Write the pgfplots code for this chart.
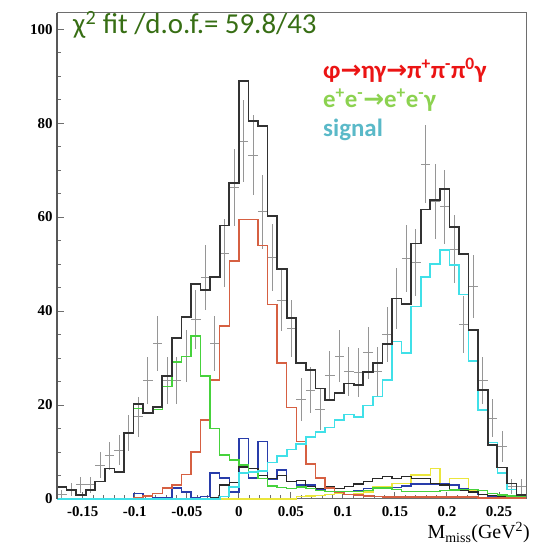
\documentclass[border=0pt]{standalone}
\usepackage{pgfplots}
\pgfplotsset{compat=1.18}
\usepackage{pgfplotstable}
\usepackage{fontspec}
\setmainfont{Liberation Serif}
\newfontfamily\calfont{Carlito}
\newfontfamily\symfont{DejaVu Sans}

\definecolor{cTot}{RGB}{50,50,50}
\definecolor{cDat}{RGB}{150,150,150}
\definecolor{cRed}{RGB}{214,96,66}
\definecolor{cGrn}{RGB}{70,210,60}
\definecolor{cCyn}{RGB}{64,224,232}
\definecolor{cBlu}{RGB}{40,60,170}
\definecolor{cYel}{RGB}{235,230,60}
\definecolor{cOth}{RGB}{40,40,40}
\definecolor{cFit}{RGB}{55,110,20}
\definecolor{cLeg1}{RGB}{235,20,20}
\definecolor{cLeg2}{RGB}{140,210,80}
\definecolor{cLeg3}{RGB}{90,185,200}
\definecolor{cFrame}{RGB}{110,110,110}

% bin left edge, bin centre, total fit, data, data error, components
\pgfplotstableread{
x       xc      tot   dat   err  red  grn  cyn  blu  yel  oth
-0.1748 -0.1702 2.6   1.0   1.0  0    2.6  0    0    0    0
-0.1656 -0.1610 1.9   2.0   1.4  0    1.9  0    0    0    0
-0.1564 -0.1518 0.9   3.0   1.7  0    0.9  0    0    0    0
-0.1472 -0.1426 1.9   3.0   1.7  0    1.9  0    0    0    0
-0.1380 -0.1334 3.7   7.2   2.7  0    3.7  0    0    0    0
-0.1288 -0.1242 6.5   9.2   3.0  0    6.5  0    0    0    0
-0.1196 -0.1150 5.8   10.4  3.2  0    5.8  0    0    0    0
-0.1104 -0.1058 14.1  14.1  3.8  0    14.1 0    0    0    0
-0.1012 -0.0966 20.2  17.5  4.2  0.3  19.3 0    1.2  0    0
-0.0920 -0.0874 18.3  25.2  5.0  0.6  18.2 0    0.5  0    0
-0.0828 -0.0782 19.6  33.1  5.8  1.2  19.0 0    0.3  0    0
-0.0736 -0.0690 26.2  25.2  5.0  2.3  23.9 0    0.3  0    0
-0.0644 -0.0598 34.2  25.2  5.0  3.0  29.2 0    2.3  0    0
-0.0552 -0.0506 38.8  30.4  5.5  5.2  30.3 0    1.5  0    0
-0.0460 -0.0414 45.8  38.2  6.2  10.0 34.7 0    0.3  0    0
-0.0368 -0.0322 44.5  47.2  6.9  16.8 26.2 0    0.5  0    0
-0.0276 -0.0230 47.2  33.1  5.8  25.3 15.0 0    5.5  0    0.3
-0.0184 -0.0138 58.2  52.3  7.2  36.8 9.4  0.5  4.5  0    3.0
-0.0092 -0.0046 67.2  66.3  8.1  50.7 8.3  2.5  1.5  0    3.5
0.0000  0.0046  89.0  76.2  8.7  59.5 7.2  5.5  12.9 0    6.8
0.0092  0.0138  80.5  73.2  8.6  59.5 5.8  5.8  4.5  0    6.5
0.0184  0.0230  79.4  61.1  7.8  54.0 4.4  6.0  12.2 0    5.0
0.0276  0.0322  60.3  51.4  7.2  41.4 2.8  7.8  4.2  0    4.3
0.0368  0.0414  49.0  42.2  6.5  28.9 2.4  9.2  6.2  0    5.0
0.0460  0.0506  38.5  36.3  6.0  19.5 2.2  10.5 3.7  0    3.8
0.0552  0.0598  29.0  21.2  4.6  12.2 2.6  11.7 3.0  0.5  4.0
0.0644  0.0690  27.5  23.2  4.8  7.5  2.2  13.2 3.0  0.6  2.6
0.0736  0.0782  23.5  19.1  4.4  4.5  1.8  14.2 1.9  0.8  2.3
0.0828  0.0874  21.1  26.4  5.1  2.3  1.6  15.2 1.6  1.0  2.6
0.0920  0.0966  22.5  30.4  5.5  1.5  1.6  16.8 1.6  1.2  2.3
0.1012  0.1058  24.6  27.1  5.2  1.0  1.6  18.0 1.6  1.0  2.6
0.1104  0.1150  24.3  26.9  5.2  0.8  1.6  17.4 1.8  1.2  3.2
0.1196  0.1242  27.1  31.1  5.6  0.6  1.8  19.9 2.2  1.5  3.7
0.1288  0.1334  28.9  27.1  5.2  0.5  2.3  21.8 2.2  2.6  4.4
0.1380  0.1426  33.0  35.0  5.9  0.4  2.3  25.3 2.2  2.6  4.8
0.1472  0.1518  42.7  42.7  6.5  0.4  2.0  33.5 2.5  3.3  4.4
0.1564  0.1610  41.5  51.2  7.2  0.4  1.6  31.1 2.8  3.3  4.8
0.1656  0.1702  54.4  50.3  7.1  0.4  1.6  41.0 3.2  5.1  4.4
0.1748  0.1794  61.6  71.3  8.4  0.4  1.6  47.3 3.2  5.1  4.4
0.1840  0.1886  63.6  63.3  8.0  0.4  1.6  50.0 3.2  6.5  3.3
0.1932  0.1978  66.0  62.2  7.9  0.4  1.8  53.0 3.2  3.3  3.0
0.2024  0.2070  57.9  53.2  7.3  0.4  1.9  49.8 3.0  4.4  2.0
0.2116  0.2162  52.1  37.2  6.1  0.4  2.0  43.5 2.2  4.4  1.8
0.2208  0.2254  36.0  45.2  6.7  0.4  2.0  29.4 1.5  1.9  1.5
0.2300  0.2346  23.2  25.2  5.0  0.2  1.8  19.0 1.0  1.0  1.0
0.2392  0.2438  11.5  17.2  4.1  0.2  1.2  12.0 0.6  0.8  0.8
0.2484  0.2530  6.7   11.1  3.3  0.2  0.8  5.5  0.4  0.5  0.5
0.2576  0.2622  3.3   2.6   1.6  0.2  0.6  2.0  0.3  0.3  0.3
0.2668  0.2714  0.9   2.6   1.6  0.2  0.6  0.8  0.2  0.2  0.2
0.2760  0.2806  0.9   nan   nan  0.2  0.6  0.8  0.2  0.2  0.2
}\histdata

\begin{document}
\begin{tikzpicture}[x=1bp,y=1bp]
\begin{axis}[
  name=ax,
  scale only axis, width=469bp, height=486.3bp,
  xmin=-0.1748, xmax=0.276, ymin=0, ymax=103.5,
  clip=false,
  axis line style={draw=cFrame, line width=1bp},
  tick align=inside, tick pos=left,
  major tick style={draw=cFrame, line width=0.9bp},
  minor tick style={draw=cFrame, line width=0.7bp},
  major tick length=7bp, minor tick length=4bp,
  xtick={-0.15,-0.1,-0.05,0,0.05,0.1,0.15,0.2,0.25},
  xticklabels={\textbf{-0.15},\textbf{-0.1},\textbf{-0.05},\textbf{0},\textbf{0.05},
    \textbf{0.1},\textbf{0.15},\textbf{0.2},\textbf{0.25}},
  minor x tick num=4,
  ytick={0,20,40,60,80,100},
  yticklabels={\textbf{0},\textbf{20},\textbf{40},\textbf{60},\textbf{80},\textbf{100}},
  minor y tick num=3,
  scaled x ticks=false, scaled y ticks=false,
  /pgf/number format/assume math mode=true,
  tick label style={font=\fontsize{15}{17}\selectfont\bfseries, text=black},
  xticklabel style={font=\fontsize{15}{17}\selectfont\bfseries, yshift=-4bp},
  yticklabel style={font=\fontsize{15}{17}\selectfont\bfseries, xshift=-1bp},
  const plot mark left,
]
% data points with statistical errors
\addplot[cDat, line width=0.8bp, only marks, mark=*, mark size=0pt,
  error bars/.cd, y dir=both, y explicit, x dir=both, x explicit,
  error mark=none, error bar style={cDat, line width=0.9bp}]
  table[x=xc, y=dat, y error=err, x error expr=0.0046] {\histdata};
% fit components
\addplot[const plot, cYel, line width=1.4bp] table[x=x, y=yel] {\histdata};
\addplot[const plot, cBlu, line width=1.4bp] table[x=x, y=blu] {\histdata};
\addplot[const plot, cOth, line width=1.2bp] table[x=x, y=oth] {\histdata};
\addplot[const plot, cRed, line width=1.5bp] table[x=x, y=red] {\histdata};
\addplot[const plot, cGrn, line width=1.5bp] table[x=x, y=grn] {\histdata};
\addplot[const plot, cCyn, line width=1.6bp] table[x=x, y=cyn] {\histdata};
% total fit
\addplot[const plot, cTot, line width=1.7bp] table[x=x, y=tot] {\histdata};
\end{axis}
% heavier left frame line
\draw[cFrame!80!black, line width=1.8bp] (ax.south west) -- (ax.north west);

\node[anchor=base west, inner sep=0pt, text=cFit, font=\calfont\fontsize{29}{32}\selectfont]
  at (16,465) {χ\textsuperscript{2} fit /d.o.f.= 59.8/43};
\node[anchor=base west, inner sep=0pt, text=cLeg1, font=\calfont\bfseries\fontsize{25}{28}\selectfont]
  at (266,420) {φ{\symfont →}ηγ{\symfont →}π\textsuperscript{+}π\textsuperscript{-}π\textsuperscript{0}γ};
\node[anchor=base west, inner sep=0pt, text=cLeg2, font=\calfont\bfseries\fontsize{25}{28}\selectfont]
  at (266,391) {e\textsuperscript{+}e\textsuperscript{-}{\symfont →}e\textsuperscript{+}e\textsuperscript{-}γ};
\node[anchor=base west, inner sep=0pt, text=cLeg3, font=\calfont\bfseries\fontsize{25}{28}\selectfont]
  at (266,362) {signal};
\node[anchor=base east, inner sep=0pt, font=\fontsize{20}{22}\selectfont]
  at (473,-40) {M\textsubscript{miss}(GeV\textsuperscript{2})};

\pgfresetboundingbox
\useasboundingbox (-57,-48) rectangle (476,499);
\end{tikzpicture}
\end{document}
